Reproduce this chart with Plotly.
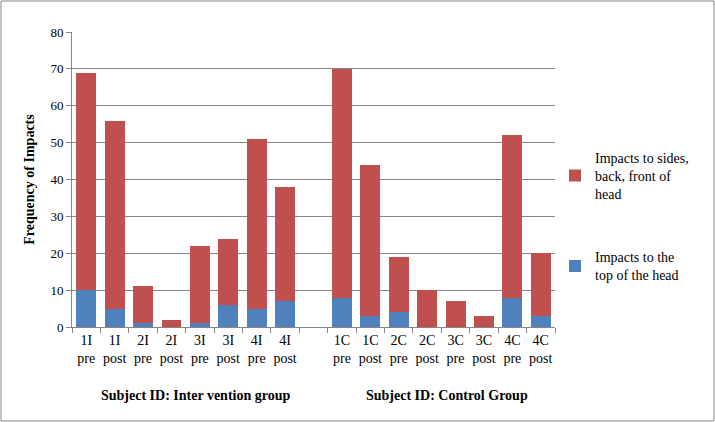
import plotly.graph_objects as go

categories = ["1I pre", "1I post", "2I pre", "2I post", "3I pre", "3I post", "4I pre", "4I post", "gap",
              "1C pre", "1C post", "2C pre", "2C post", "3C pre", "3C post", "4C pre", "4C post"]
tick_labels = ["1I<br>pre", "1I<br>post", "2I<br>pre", "2I<br>post", "3I<br>pre", "3I<br>post", "4I<br>pre", "4I<br>post", "",
               "1C<br>pre", "1C<br>post", "2C<br>pre", "2C<br>post", "3C<br>pre", "3C<br>post", "4C<br>pre", "4C<br>post"]
top_of_head = [10, 5, 1, 0, 1, 6, 5, 7, None, 8, 3, 4, 0, 0, 0, 8, 3]
sides_back_front = [59, 51, 10, 2, 21, 18, 46, 31, None, 62, 41, 15, 10, 7, 3, 44, 17]

font = "Liberation Serif, Times New Roman, serif"
fig = go.Figure()
fig.add_trace(go.Bar(x=categories, y=top_of_head, name="Impacts to the<br>top of the head",
                     marker=dict(color="#4F81BD", line=dict(width=0)), legendgroup="a", legendrank=2))
fig.add_trace(go.Bar(x=categories, y=sides_back_front, name="Impacts to sides,<br>back, front of<br>head",
                     marker=dict(color="#C0504D", line=dict(width=0)), legendgroup="b", legendrank=1))

fig.update_layout(
    width=715, height=422,
    barmode="stack", bargap=0.3,
    margin=dict(l=72, r=160, t=32, b=95),
    paper_bgcolor="white", plot_bgcolor="white",
    font=dict(family=font, size=14, color="black"),
    showlegend=True,
    legend=dict(x=1.0, y=0.376, yanchor="middle", xanchor="left",
                traceorder="grouped", tracegroupgap=42,
                font=dict(family=font, size=14, color="black"),
                itemwidth=30),
    xaxis=dict(tickmode="array", tickvals=categories, ticktext=tick_labels, tickangle=0,
               tickson="boundaries", ticks="outside", ticklen=5, tickcolor="#868686",
               showline=True, linecolor="#868686", linewidth=1, showgrid=False,
               tickfont=dict(family=font, size=14)),
    yaxis=dict(range=[0, 80], dtick=10, showgrid=True, gridcolor="#868686", gridwidth=1,
               showline=True, linecolor="#868686", ticks="outside", ticklen=5, tickcolor="#868686",
               zeroline=False, tickfont=dict(family=font, size=13),
               title=dict(text="<b>Frequency of Impacts</b>", font=dict(family=font, size=14), standoff=12)),
    annotations=[
        dict(text="<b>Subject ID: Inter vention group</b>", xref="paper", yref="paper",
             x=(195 - 72) / 483, y=-(395 - 327) / 295, xanchor="center", yanchor="middle",
             showarrow=False, font=dict(family=font, size=14)),
        dict(text="<b>Subject ID: Control Group</b>", xref="paper", yref="paper",
             x=(447 - 72) / 483, y=-(395 - 327) / 295, xanchor="center", yanchor="middle",
             showarrow=False, font=dict(family=font, size=14)),
    ],
    shapes=[dict(type="rect", xref="paper", yref="paper",
                 x0=-71 / 483, x1=(714 - 72) / 483, y0=-(421 - 327) / 295, y1=(327 - 1) / 295,
                 line=dict(color="#868686", width=1), fillcolor="rgba(0,0,0,0)", layer="below")],
)
fig.write_html("out.html")
